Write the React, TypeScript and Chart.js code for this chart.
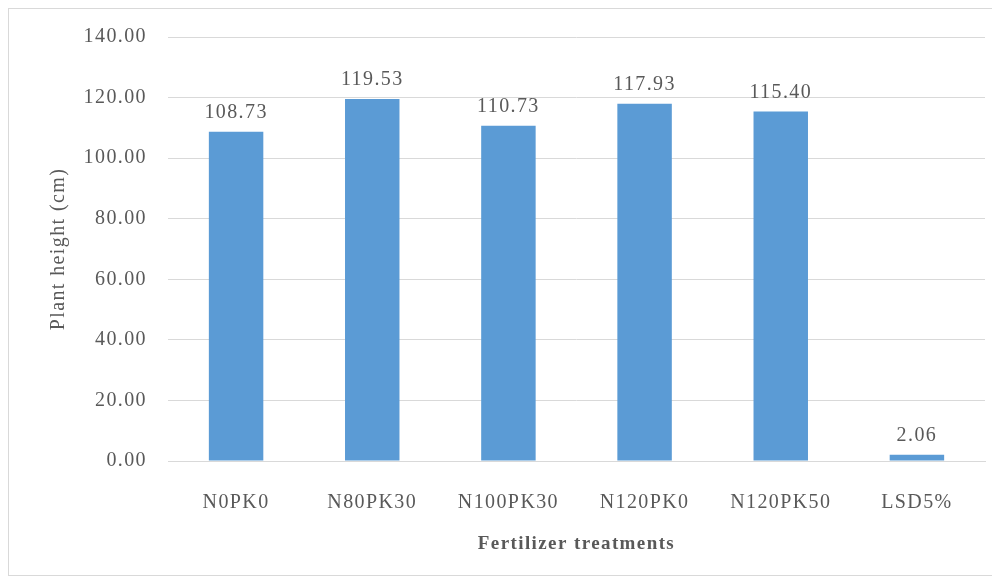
import React, { useEffect, useRef } from "react";
import { Chart, registerables } from "chart.js";

Chart.register(...registerables);

const categories = ["N0PK0", "N80PK30", "N100PK30", "N120PK0", "N120PK50", "LSD5%"];
const plantHeight = [108.73, 119.53, 110.73, 117.93, 115.4, 2.06];
const yTickValues = [0, 20, 40, 60, 80, 100, 120, 140];

const FONT = '"Liberation Serif", "Times New Roman", serif';
const TEXT = "#595959";
const GRID = "#d9d9d9";
const BAR = "#5b9bd5";

// Writes each bar's value above it and applies the slightly spaced lettering.
const valueLabels = {
  id: "valueLabels",
  beforeDraw(chart: any) {
    chart.ctx.letterSpacing = "1.4px";
  },
  afterDatasetsDraw(chart: any) {
    const ctx = chart.ctx;
    const meta = chart.getDatasetMeta(0);
    ctx.save();
    ctx.font = `20px ${FONT}`;
    ctx.fillStyle = TEXT;
    ctx.textAlign = "center";
    ctx.textBaseline = "middle";
    meta.data.forEach((bar: any, i: number) => {
      const v = chart.data.datasets[0].data[i] as number;
      ctx.fillText(v.toFixed(2), bar.x, bar.y - 19);
    });
    ctx.restore();
  },
};

export default function App() {
  const ref = useRef<HTMLCanvasElement>(null);

  useEffect(() => {
    if (!ref.current) return;
    const chart = new Chart(ref.current, {
      type: "bar",
      data: {
        labels: categories,
        datasets: [
          {
            data: plantHeight,
            backgroundColor: BAR,
            barPercentage: 0.4,
            categoryPercentage: 1,
          },
        ],
      },
      options: {
        animation: false,
        responsive: false,
        layout: { padding: { top: 28, right: 8, left: 0, bottom: 0 } },
        plugins: { legend: { display: false }, tooltip: { enabled: false } },
        scales: {
          x: {
            grid: { display: false },
            border: { display: true, color: GRID },
            ticks: {
              color: TEXT,
              font: { family: FONT, size: 20 },
              padding: 22,
              maxRotation: 0,
            },
            title: {
              display: true,
              text: "Fertilizer treatments",
              color: TEXT,
              font: { family: FONT, size: 19, weight: "bold" },
              padding: { top: 0, bottom: 20 },
            },
            afterFit(scale: any) {
              scale.height = 114;
              scale.paddingLeft = 0;
              scale.paddingRight = 0;
            },
          },
          y: {
            min: 0,
            max: 140,
            afterBuildTicks(scale: any) {
              scale.ticks = yTickValues.map((v) => ({ value: v }));
            },
            grid: { color: GRID, drawTicks: false },
            border: { display: false },
            ticks: {
              color: TEXT,
              font: { family: FONT, size: 20 },
              padding: 21,
              callback: (v: any) => Number(v).toFixed(2),
            },
            title: {
              display: true,
              text: "Plant height (cm)",
              color: TEXT,
              font: { family: FONT, size: 20 },
              padding: { top: 38, bottom: 0 },
            },
            afterFit(scale: any) {
              scale.width = 159;
              scale.paddingTop = 0;
              scale.paddingBottom = 0;
            },
          },
        },
      },
      plugins: [valueLabels],
    });
    return () => chart.destroy();
  }, []);

  return (
    <div
      style={{
        width: 986,
        height: 568,
        border: `1px solid ${GRID}`,
        boxSizing: "border-box",
        background: "#fff",
      }}
    >
      <canvas ref={ref} width={984} height={566} style={{ display: "block" }} />
    </div>
  );
}
